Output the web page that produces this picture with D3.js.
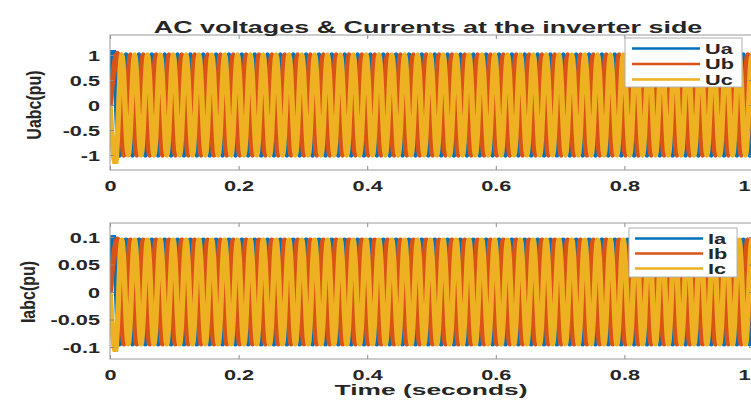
<!DOCTYPE html>
<html>
<head>
<meta charset="utf-8">
<script src="https://cdn.jsdelivr.net/npm/d3@7"></script>
<style>
body { margin: 0; background: #fff; }
text { font-family: "Liberation Sans", Arial, sans-serif; font-weight: bold; fill: #262626; }
</style>
</head>
<body>
<div id="canvas"></div>
<script>
var titleText = 'AC voltages & Currents at the inverter side'
var xLabelText = 'Time (seconds)'

var xTicks = [0, 0.2, 0.4, 0.6, 0.8, 1]
var xTickLabels = ['0', '0.2', '0.4', '0.6', '0.8', '1']
var uTicks = [-1, -0.5, 0, 0.5, 1]
var uTickLabels = ['-1', '-0.5', '0', '0.5', '1']
var iTicks = [-0.1, -0.05, 0, 0.05, 0.1]
var iTickLabels = ['-0.1', '-0.05', '0', '0.05', '0.1']

var uNames = ['Ua', 'Ub', 'Uc']
var iNames = ['Ia', 'Ib', 'Ic']
var phaseColors = ['#0072BD', '#D95319', '#EDB120']

// first value is at t = 0, then one value per half-cycle peak (every 10 ms)
var peakStep = 0.01
var firstPeakT = [0.005, 0.011667, 0.008333]

var Ua = [0,
    1.10, -1, 1, -1, 1, -1, 1, -1, 1, -1,
    1, -1, 1, -1, 1, -1, 1, -1, 1, -1,
    1, -1, 1, -1, 1, -1, 1, -1, 1, -1,
    1, -1, 1, -1, 1, -1, 1, -1, 1, -1,
    1, -1, 1, -1, 1, -1, 1, -1, 1, -1,
    1, -1, 1, -1, 1, -1, 1, -1, 1, -1,
    1, -1, 1, -1, 1, -1, 1, -1, 1, -1,
    1, -1, 1, -1, 1, -1, 1, -1, 1, -1,
    1, -1, 1, -1, 1, -1, 1, -1, 1, -1,
    1, -1, 1, -1, 1, -1, 1, -1, 1, -1,
    1]
var Ub = [0,
    1.03, -1, 1, -1, 1, -1, 1, -1, 1, -1,
    1, -1, 1, -1, 1, -1, 1, -1, 1, -1,
    1, -1, 1, -1, 1, -1, 1, -1, 1, -1,
    1, -1, 1, -1, 1, -1, 1, -1, 1, -1,
    1, -1, 1, -1, 1, -1, 1, -1, 1, -1,
    1, -1, 1, -1, 1, -1, 1, -1, 1, -1,
    1, -1, 1, -1, 1, -1, 1, -1, 1, -1,
    1, -1, 1, -1, 1, -1, 1, -1, 1, -1,
    1, -1, 1, -1, 1, -1, 1, -1, 1, -1,
    1, -1, 1, -1, 1, -1, 1, -1, 1, -1]
var Uc = [0,
    -1.18, 1, -1, 1, -1, 1, -1, 1, -1, 1,
    -1, 1, -1, 1, -1, 1, -1, 1, -1, 1,
    -1, 1, -1, 1, -1, 1, -1, 1, -1, 1,
    -1, 1, -1, 1, -1, 1, -1, 1, -1, 1,
    -1, 1, -1, 1, -1, 1, -1, 1, -1, 1,
    -1, 1, -1, 1, -1, 1, -1, 1, -1, 1,
    -1, 1, -1, 1, -1, 1, -1, 1, -1, 1,
    -1, 1, -1, 1, -1, 1, -1, 1, -1, 1,
    -1, 1, -1, 1, -1, 1, -1, 1, -1, 1,
    -1, 1, -1, 1, -1, 1, -1, 1, -1, 1,
    -1]

var Ia = [0,
    0.102, -0.094, 0.094, -0.094, 0.094, -0.094, 0.094, -0.094, 0.094, -0.094,
    0.094, -0.094, 0.094, -0.094, 0.094, -0.094, 0.094, -0.094, 0.094, -0.094,
    0.094, -0.094, 0.094, -0.094, 0.094, -0.094, 0.094, -0.094, 0.094, -0.094,
    0.094, -0.094, 0.094, -0.094, 0.094, -0.094, 0.094, -0.094, 0.094, -0.094,
    0.094, -0.094, 0.094, -0.094, 0.094, -0.094, 0.094, -0.094, 0.094, -0.094,
    0.094, -0.094, 0.094, -0.094, 0.094, -0.094, 0.094, -0.094, 0.094, -0.094,
    0.094, -0.094, 0.094, -0.094, 0.094, -0.094, 0.094, -0.094, 0.094, -0.094,
    0.094, -0.094, 0.094, -0.094, 0.094, -0.094, 0.094, -0.094, 0.094, -0.094,
    0.094, -0.094, 0.094, -0.094, 0.094, -0.094, 0.094, -0.094, 0.094, -0.094,
    0.094, -0.094, 0.094, -0.094, 0.094, -0.094, 0.094, -0.094, 0.094, -0.094,
    0.094]
var Ib = [0,
    0.096, -0.094, 0.094, -0.094, 0.094, -0.094, 0.094, -0.094, 0.094, -0.094,
    0.094, -0.094, 0.094, -0.094, 0.094, -0.094, 0.094, -0.094, 0.094, -0.094,
    0.094, -0.094, 0.094, -0.094, 0.094, -0.094, 0.094, -0.094, 0.094, -0.094,
    0.094, -0.094, 0.094, -0.094, 0.094, -0.094, 0.094, -0.094, 0.094, -0.094,
    0.094, -0.094, 0.094, -0.094, 0.094, -0.094, 0.094, -0.094, 0.094, -0.094,
    0.094, -0.094, 0.094, -0.094, 0.094, -0.094, 0.094, -0.094, 0.094, -0.094,
    0.094, -0.094, 0.094, -0.094, 0.094, -0.094, 0.094, -0.094, 0.094, -0.094,
    0.094, -0.094, 0.094, -0.094, 0.094, -0.094, 0.094, -0.094, 0.094, -0.094,
    0.094, -0.094, 0.094, -0.094, 0.094, -0.094, 0.094, -0.094, 0.094, -0.094,
    0.094, -0.094, 0.094, -0.094, 0.094, -0.094, 0.094, -0.094, 0.094, -0.094]
var Ic = [0,
    -0.108, 0.094, -0.094, 0.094, -0.094, 0.094, -0.094, 0.094, -0.094, 0.094,
    -0.094, 0.094, -0.094, 0.094, -0.094, 0.094, -0.094, 0.094, -0.094, 0.094,
    -0.094, 0.094, -0.094, 0.094, -0.094, 0.094, -0.094, 0.094, -0.094, 0.094,
    -0.094, 0.094, -0.094, 0.094, -0.094, 0.094, -0.094, 0.094, -0.094, 0.094,
    -0.094, 0.094, -0.094, 0.094, -0.094, 0.094, -0.094, 0.094, -0.094, 0.094,
    -0.094, 0.094, -0.094, 0.094, -0.094, 0.094, -0.094, 0.094, -0.094, 0.094,
    -0.094, 0.094, -0.094, 0.094, -0.094, 0.094, -0.094, 0.094, -0.094, 0.094,
    -0.094, 0.094, -0.094, 0.094, -0.094, 0.094, -0.094, 0.094, -0.094, 0.094,
    -0.094, 0.094, -0.094, 0.094, -0.094, 0.094, -0.094, 0.094, -0.094, 0.094,
    -0.094, 0.094, -0.094, 0.094, -0.094, 0.094, -0.094, 0.094, -0.094, 0.094,
    -0.094]

var W = 751, H = 400
var stretch = 1.55

var svg = d3.select('#canvas')
    .append('svg')
    .attr('width', W)
    .attr('height', H)

var soft = svg.append('defs').append('filter')
    .attr('id', 'soft')
    .attr('x', 0).attr('y', 0).attr('width', 1).attr('height', 1)
soft.append('feGaussianBlur').attr('stdDeviation', 0.7)

var x = d3.scaleLinear().domain([0, 1]).range([110, 753])

var panels = [
    {top: 35, bottom: 170, domain: [-1.3, 1.4], ticks: uTicks, tickLabels: uTickLabels,
     series: [Ua, Ub, Uc], names: uNames, ylabel: 'Uabc(pu)', ylabelX: 41,
     legend: {x: 625, y: 38, w: 117, h: 49, line0: 632, line1: 700, textX: 705, row0: 48.5, gap: 15.5}},
    {top: 223, bottom: 359, domain: [-0.1218, 0.1255], ticks: iTicks, tickLabels: iTickLabels,
     series: [Ia, Ib, Ic], names: iNames, ylabel: 'Iabc(pu)', ylabelX: 35,
     legend: {x: 629, y: 228, w: 108, h: 49, line0: 635, line1: 703, textX: 708, row0: 238.5, gap: 15}}
]

function phaseLine(y, p) {
    return d3.line()
        .x((v, i) => x(i == 0 ? 0 : firstPeakT[p] + (i - 1) * peakStep))
        .y(v => y(v))
        .curve(d3.curveMonotoneX)
}

function styleAxis(ax) {
    ax.select('.domain').remove()
    ax.selectAll('line').attr('stroke', '#8a8a8a')
    ax.attr('font-size', 14)
}

panels.forEach(function(pn, idx) {
    let y = d3.scaleLinear().domain(pn.domain).range([pn.bottom, pn.top])
    let g = svg.append('g').attr('id', 'panel' + idx)
    let x0 = x.range()[0], x1 = x.range()[1]

    g.append('clipPath')
        .attr('id', 'clip' + idx)
        .append('rect')
        .attr('x', x0)
        .attr('y', pn.top)
        .attr('width', x1 - x0)
        .attr('height', pn.bottom - pn.top)

    let traces = g.append('g')
        .attr('clip-path', 'url(#clip' + idx + ')')
        .append('g')
        .attr('filter', 'url(#soft)')
    pn.series.forEach(function(vals, p) {
        traces.append('path')
            .datum(vals)
            .attr('d', phaseLine(y, p))
            .attr('fill', 'none')
            .attr('stroke', phaseColors[p])
            .attr('stroke-width', 5.4)
    })

    let bx = g.append('g')
        .attr('transform', 'translate(0,' + pn.bottom + ')')
        .call(d3.axisBottom(x).tickValues(xTicks).tickFormat((d, i) => xTickLabels[i]).tickSizeInner(-4).tickSizeOuter(0))
    styleAxis(bx)
    bx.selectAll('text')
        .attr('y', 21)
        .attr('dy', 0)
        .attr('transform', 'scale(' + stretch + ',1)')
    // last label sits on the window edge; keep it inside
    bx.selectAll('text').filter((d, i) => i == xTicks.length - 1)
        .attr('text-anchor', 'end')
        .attr('x', (W - 1 - x(1)) / stretch)

    let tx = g.append('g')
        .attr('transform', 'translate(0,' + pn.top + ')')
        .call(d3.axisTop(x).tickValues(xTicks).tickFormat('').tickSizeInner(-4).tickSizeOuter(0))
    styleAxis(tx)

    let ly = g.append('g')
        .attr('transform', 'translate(' + x0 + ',0)')
        .call(d3.axisLeft(y).tickValues(pn.ticks).tickFormat((d, i) => pn.tickLabels[i]).tickSizeInner(-4).tickSizeOuter(0))
    styleAxis(ly)
    ly.selectAll('text')
        .attr('x', -10 / stretch)
        .attr('dy', 5)
        .attr('transform', 'scale(' + stretch + ',1)')

    let ry = g.append('g')
        .attr('transform', 'translate(' + x1 + ',0)')
        .call(d3.axisRight(y).tickValues(pn.ticks).tickFormat('').tickSizeInner(-4).tickSizeOuter(0))
    styleAxis(ry)

    g.append('rect')
        .attr('x', x0)
        .attr('y', pn.top)
        .attr('width', x1 - x0)
        .attr('height', pn.bottom - pn.top)
        .attr('fill', 'none')
        .attr('stroke', '#999')

    g.append('text')
        .attr('text-anchor', 'middle')
        .attr('font-size', 16)
        .attr('transform', 'translate(' + pn.ylabelX + ',' + y(0) + ') scale(1.3,1) rotate(-90)')
        .text(pn.ylabel)

    let lg = pn.legend
    let leg = g.append('g').attr('class', 'legend')
    leg.append('rect')
        .attr('x', lg.x)
        .attr('y', lg.y)
        .attr('width', lg.w)
        .attr('height', lg.h)
        .attr('fill', '#fff')
        .attr('stroke', '#b0b0b0')
    pn.names.forEach(function(nm, p) {
        let ry0 = lg.row0 + p * lg.gap
        leg.append('line')
            .attr('x1', lg.line0)
            .attr('x2', lg.line1)
            .attr('y1', ry0)
            .attr('y2', ry0)
            .attr('stroke', phaseColors[p])
            .attr('stroke-width', 2.5)
        leg.append('text')
            .attr('font-size', 14)
            .attr('transform', 'translate(' + lg.textX + ',' + (ry0 + 5) + ') scale(' + stretch + ',1)')
            .text(nm)
    })
})

function fitText(txt, cx, by, size, width) {
    let t = svg.append('text')
        .attr('text-anchor', 'middle')
        .attr('font-size', size)
        .text(txt)
    let len = t.node().getComputedTextLength()
    t.attr('transform', 'translate(' + cx + ',' + by + ') scale(' + (width / len) + ',1)')
    return t
}

fitText(titleText, 428, 33, 16, 549)
fitText(xLabelText, 431, 395, 15, 193)
</script>
</body>
</html>
